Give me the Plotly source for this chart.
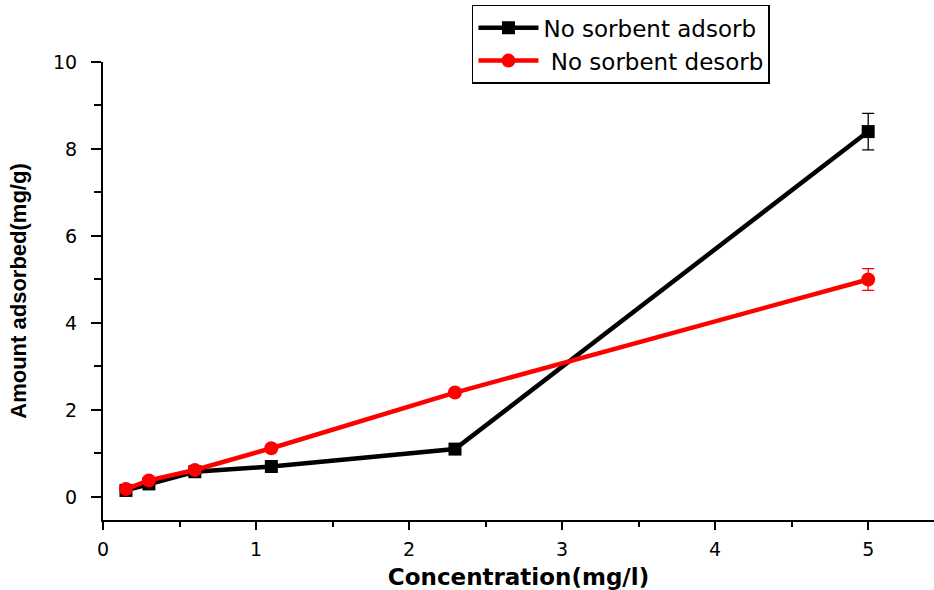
import plotly.graph_objects as go

conc = [0.15, 0.3, 0.6, 1.1, 2.3, 5.0]
adsorb = [0.15, 0.3, 0.58, 0.7, 1.1, 8.4]
adsorb_err = [0.04, 0.04, 0.04, 0.04, 0.04, 0.42]
desorb = [0.18, 0.38, 0.62, 1.12, 2.4, 5.0]
desorb_err = [0.04, 0.04, 0.04, 0.04, 0.07, 0.25]

x_ticks = [0, 1, 2, 3, 4, 5]
y_ticks = [0, 2, 4, 6, 8, 10]

fig = go.Figure()
fig.add_trace(go.Scatter(
    x=conc, y=adsorb, mode="lines+markers", name="No sorbent adsorb",
    line=dict(color="black", width=4.5),
    marker=dict(symbol="square", size=13, color="black"),
    error_y=dict(type="data", array=adsorb_err, visible=True, color="black", thickness=1.3, width=6),
))
fig.add_trace(go.Scatter(
    x=conc, y=desorb, mode="lines+markers", name=" No sorbent desorb",
    line=dict(color="#ff0000", width=4.5),
    marker=dict(symbol="circle", size=14, color="#ff0000"),
    error_y=dict(type="data", array=desorb_err, visible=True, color="#ff0000", thickness=1.3, width=6),
))

fig.update_layout(
    width=934, height=590,
    margin=dict(l=103, r=0, t=62, b=70),
    paper_bgcolor="white", plot_bgcolor="white",
    showlegend=True,
    legend=dict(
        x=0.444, y=1.125, xanchor="left", yanchor="top",
        bordercolor="black", borderwidth=1.5, bgcolor="white",
        font=dict(family="DejaVu Sans", size=23, color="black"),
        itemwidth=60, tracegroupgap=0,
    ),
    xaxis=dict(
        range=[0, 5.43], tickvals=x_ticks, ticktext=[str(v) for v in x_ticks],
        showgrid=False, zeroline=False,
        showline=True, linecolor="black", linewidth=2,
        ticks="outside", ticklen=8, tickwidth=2, tickcolor="black",
        minor=dict(dtick=0.5, ticks="outside", ticklen=5, tickwidth=1.5, tickcolor="black", showgrid=False),
        tickfont=dict(family="DejaVu Sans", size=19, color="black"),
        ticklabelstandoff=3,
        title=dict(text="<b>Concentration(mg/l)</b>", standoff=10,
                   font=dict(family="DejaVu Sans", size=23, color="black")),
    ),
    yaxis=dict(
        range=[-0.53, 10], tickvals=y_ticks, ticktext=[str(v) for v in y_ticks],
        showgrid=False, zeroline=False,
        showline=True, linecolor="black", linewidth=2,
        ticks="outside", ticklen=10, tickwidth=1.5, tickcolor="black",
        minor=dict(dtick=1, ticks="outside", ticklen=7, tickwidth=1.5, tickcolor="black", showgrid=False),
        tickfont=dict(family="DejaVu Sans", size=19, color="black"),
        ticklabelstandoff=10,
        title=dict(text="<b>Amount adsorbed(mg/g)</b>", standoff=20,
                   font=dict(family="Liberation Sans", size=22, color="black")),
    ),
)

fig.write_html("out.html")
